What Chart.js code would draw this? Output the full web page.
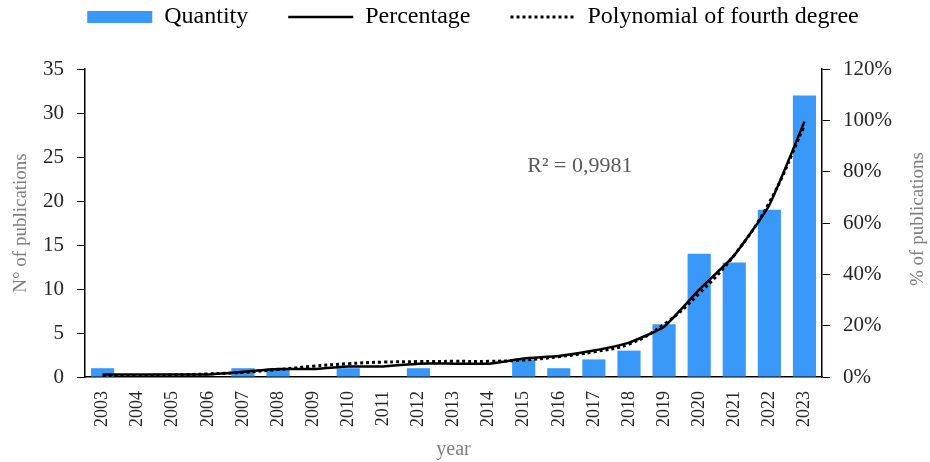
<!DOCTYPE html>
<html>
<head>
<meta charset="utf-8">
<script src="https://cdn.jsdelivr.net/npm/chart.js@4.4.1/dist/chart.umd.min.js"></script>
<style>
  html, body { margin: 0; padding: 0; background: #fff; }
  #wrap { width: 930px; height: 462px; }
</style>
</head>
<body>
<div id="wrap"><canvas id="pubChart" width="930" height="462"></canvas></div>
<script>
// values
const years = ['2003', '2004', '2005', '2006', '2007', '2008', '2009', '2010', '2011', '2012', '2013',
               '2014', '2015', '2016', '2017', '2018', '2019', '2020', '2021', '2022', '2023'];
const quantity = [1, 0, 0, 0, 1, 1, 0, 1, 0, 1, 0, 0, 2, 1, 2, 3, 6, 14, 13, 19, 32];
const percentage = [1, 1, 1, 1, 2, 3.1, 3.1, 4.1, 4.1, 5.2, 5.2, 5.2, 7.2, 8.2, 10.3, 13.4, 19.6, 34, 47.4, 67, 99.5];
const polynomial = [0.3, 0.5, 0.8, 1.2, 1.8, 2.9, 4.2, 5.2, 5.8, 6.0, 6.1, 6.1, 6.6, 7.9, 9.8, 12.8, 20.5, 32.5, 47.5, 68, 98];
const leftTicks = [0, 5, 10, 15, 20, 25, 30, 35];
const rightTicks = [0, 20, 40, 60, 80, 100, 120];
const r2Label = 'R\u00b2 = 0,9981';

const serif = '"Liberation Serif", "Times New Roman", serif';
const blue = '#3a98f9';
const greyText = '#595959';
const titleGrey = '#7f7f7f';
const legendGap = 40;
const legendFont = 24;

// legend padding is also used vertically, so fix its height and pull its box up
const legendHeight = {
    id: 'legendHeight',
    beforeInit(chart) {
        const fit = chart.legend.fit;
        chart.legend.fit = function () {
            fit.call(this);
            this.height = 69;
        };
    },
    afterLayout(chart) {
        const lg = chart.legend;
        lg.top = 17 - legendGap - legendFont / 2;
        lg.left += 8;
        lg.right += 8;
    }
};

// right axis title (reads bottom to top) and the R² note
const extraText = {
    id: 'extraText',
    afterDraw(chart) {
        const ctx = chart.ctx;
        ctx.save();
        ctx.fillStyle = titleGrey;
        ctx.font = '19px ' + serif;
        ctx.textAlign = 'center';
        ctx.textBaseline = 'middle';
        ctx.translate(918, (chart.chartArea.top + chart.chartArea.bottom) / 2 - 4);
        ctx.rotate(-Math.PI / 2);
        ctx.fillText('% of publications', 0, 0);
        ctx.restore();

        ctx.save();
        ctx.fillStyle = greyText;
        ctx.font = '22px ' + serif;
        ctx.textAlign = 'center';
        ctx.textBaseline = 'middle';
        ctx.fillText(r2Label, chart.scales.x.getPixelForValue(13.6), chart.scales.y1.getPixelForValue(82));
        ctx.restore();
    }
};

function initChart() {
    const ctx = document.getElementById('pubChart').getContext('2d');
    new Chart(ctx, {
        type: 'bar',
        data: {
            labels: years,
            datasets: [{
                type: 'line',
                label: 'Percentage',
                data: percentage,
                yAxisID: 'y1',
                borderColor: '#000',
                borderWidth: 2.5,
                pointRadius: 0,
                tension: 0.15,
                order: 1
            }, {
                type: 'line',
                label: 'Polynomial of fourth degree',
                data: polynomial,
                yAxisID: 'y1',
                borderColor: '#000',
                borderWidth: 3,
                borderDash: [3, 3],
                pointRadius: 0,
                tension: 0.4,
                order: 2
            }, {
                type: 'bar',
                label: 'Quantity',
                data: quantity,
                yAxisID: 'y',
                backgroundColor: blue,
                barPercentage: 0.66,
                categoryPercentage: 1,
                order: 3
            }]
        },
        options: {
            responsive: false,
            animation: false,
            layout: { padding: 0 },
            plugins: {
                tooltip: { enabled: false },
                legend: {
                    position: 'top',
                    labels: {
                        usePointStyle: true,
                        pointStyleWidth: 65,
                        boxHeight: 12,
                        padding: legendGap,
                        color: greyText,
                        font: { family: serif, size: legendFont },
                        generateLabels() {
                            return [
                                { text: 'Quantity', pointStyle: 'rect', fillStyle: blue, strokeStyle: blue, lineWidth: 0, datasetIndex: 2 },
                                { text: 'Percentage', pointStyle: 'line', fillStyle: '#000', strokeStyle: '#000', lineWidth: 2.5, datasetIndex: 0 },
                                { text: 'Polynomial of fourth degree', pointStyle: 'line', fillStyle: '#000', strokeStyle: '#000', lineWidth: 3, lineDash: [3, 3], datasetIndex: 1 }
                            ];
                        }
                    }
                }
            },
            scales: {
                x: {
                    offset: true,
                    grid: { display: false },
                    border: { color: '#000', width: 1.5 },
                    ticks: {
                        color: '#262626',
                        font: { family: serif, size: 18 },
                        minRotation: 90,
                        maxRotation: 90,
                        padding: 6
                    },
                    title: {
                        display: true,
                        text: 'year',
                        color: titleGrey,
                        font: { family: serif, size: 20 },
                        padding: 0
                    },
                    afterFit(scale) { scale.height = 85; }
                },
                y: {
                    position: 'left',
                    min: 0,
                    max: 35,
                    afterBuildTicks(scale) { scale.ticks = leftTicks.map(v => ({ value: v })); },
                    grid: { drawOnChartArea: false, drawTicks: true, tickLength: 8, color: '#000' },
                    border: { color: '#000', width: 1.5 },
                    ticks: {
                        color: '#262626',
                        font: { family: serif, size: 21 },
                        padding: 13
                    },
                    title: {
                        display: true,
                        text: 'N\u00b0 of publications',
                        color: titleGrey,
                        font: { family: serif, size: 19 },
                        padding: { top: 10, bottom: 0 }
                    },
                    afterFit(scale) { scale.width = 85; }
                },
                y1: {
                    position: 'right',
                    min: 0,
                    max: 120,
                    afterBuildTicks(scale) { scale.ticks = rightTicks.map(v => ({ value: v })); },
                    grid: { drawOnChartArea: false, drawTicks: true, tickLength: 8, color: '#000' },
                    border: { color: '#000', width: 1.5 },
                    ticks: {
                        color: '#262626',
                        font: { family: serif, size: 21 },
                        padding: 13,
                        callback: v => v + '%'
                    },
                    afterFit(scale) { scale.width = 108; }
                }
            }
        },
        plugins: [legendHeight, extraText]
    });
}

initChart();
</script>
</body>
</html>
